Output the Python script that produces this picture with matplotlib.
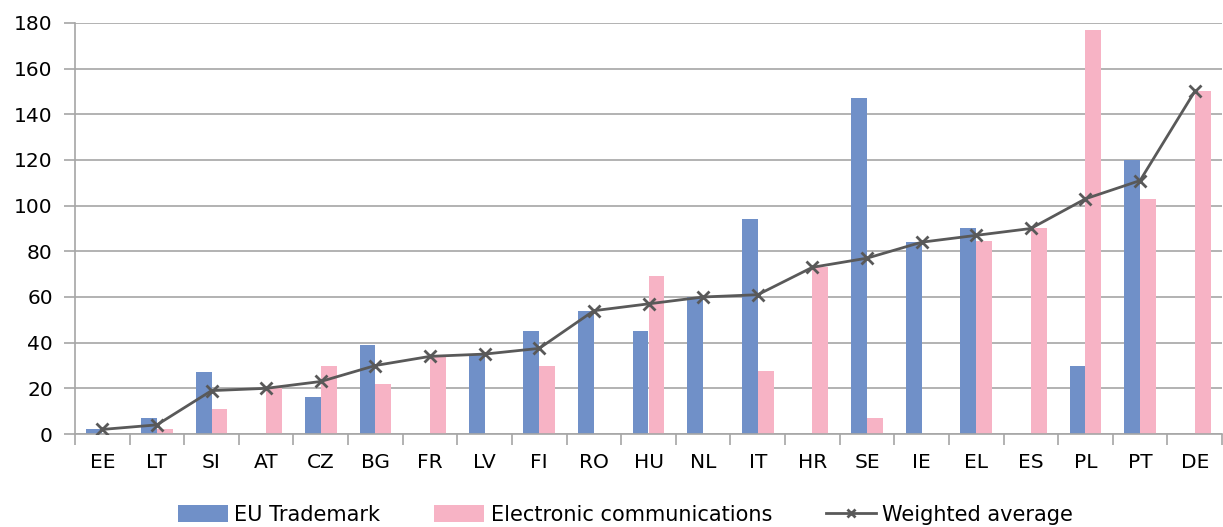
import matplotlib.pyplot as plt
import numpy as np

countries = ["EE", "LT", "SI", "AT", "CZ", "BG", "FR", "LV", "FI", "RO", "HU",
             "NL", "IT", "HR", "SE", "IE", "EL", "ES", "PL", "PT", "DE"]
trademark = [2, 7, 27, 0, 16, 39, 0, 35, 45, 54, 45, 60, 94, 0, 147, 84, 90, 0, 30, 120, 0]
ecomm = [0, 2, 11, 20, 30, 22, 34, 0, 30, 0, 69, 0, 27.5, 73, 7, 0, 84.5, 90, 177, 103, 150]
weighted = [2, 4, 19, 20, 23, 30, 34, 35, 37.5, 54, 57, 60, 61, 73, 77, 84, 87, 90, 103, 111, 150]

blue = "#7090c8"
pink = "#f7b3c5"
grey = "#595959"
gridc = "#a6a6a6"

fig = plt.figure(figsize=(12.23, 5.27), dpi=100, facecolor="white")
ax = fig.add_axes([75/1223, 1-434/527, (1222-75)/1223, (434-23)/527])

x = np.arange(len(countries))
w = 0.29
b1 = ax.bar(x - w/2, trademark, w, color=blue, label="EU Trademark", zorder=2)
b2 = ax.bar(x + w/2, ecomm, w, color=pink, label="Electronic communications", zorder=2)
l1, = ax.plot(x, weighted, color=grey, lw=2, marker="x", ms=8, mew=2,
              label="Weighted average", zorder=3)

ax.set_xlim(-0.5, len(countries) - 0.5)
ax.set_ylim(0, 180)
ax.set_yticks(range(0, 181, 20))
ax.yaxis.grid(True, color=gridc, lw=1.2, zorder=0)
ax.set_axisbelow(True)

ax.set_xticks(x)
ax.set_xticklabels(countries)
ax.set_xticks(np.arange(-0.5, len(countries)), minor=True)
ax.tick_params(axis="x", which="major", length=0, pad=14, labelsize=14.5)
ax.tick_params(axis="x", which="minor", length=8, color=gridc, width=1.2)
ax.tick_params(axis="y", length=8, color=gridc, width=1.2, labelsize=14.5, pad=8)

for s in ["top", "right"]:
    ax.spines[s].set_visible(False)
for s in ["left", "bottom"]:
    ax.spines[s].set_color(gridc)
    ax.spines[s].set_linewidth(1.2)

ax.legend([b1, b2, l1], ["EU Trademark", "Electronic communications", "Weighted average"],
          loc="center", bbox_to_anchor=(0.48, -0.197), ncol=3, frameon=False,
          fontsize=15, columnspacing=2.6, markerscale=0.7,
          handlelength=2.4, handleheight=0.9, handletextpad=0.3, borderpad=0)

plt.savefig("out.png", dpi=100)
